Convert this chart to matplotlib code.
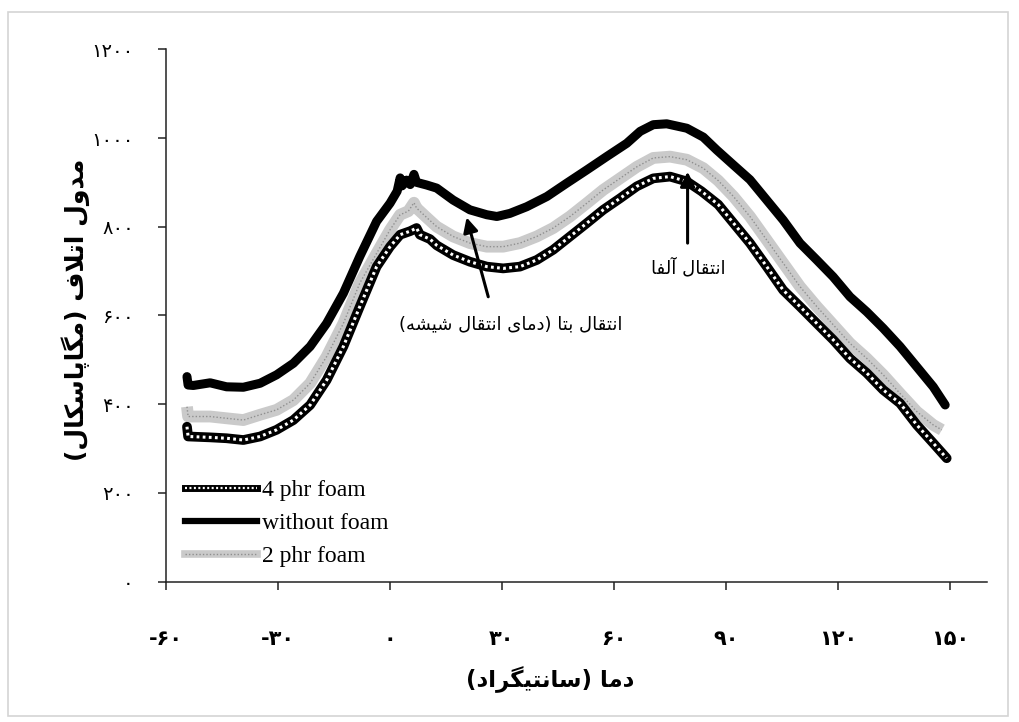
import matplotlib
matplotlib.use('Agg')
import matplotlib.pyplot as plt
from matplotlib.lines import Line2D
from matplotlib.legend_handler import HandlerTuple
from matplotlib.patches import Rectangle

# ---------------- data ----------------
temp_without = [-54.3, -54.0, -52.6, -48.1, -43.7, -39.2, -34.7, -30.3, -25.8, -21.3,
                -16.9, -12.4, -8.0, -3.5, 0.1, 2.0, 2.8, 3.3, 4.5, 5.5, 6.5, 7.2, 9.9,
                12.6, 17.0, 21.5, 26.0, 28.7, 32.2, 36.7, 42.1, 47.4, 52.8, 58.1, 63.5,
                67.1, 70.6, 74.2, 79.6, 84.0, 87.6, 92.1, 96.5, 101.0, 105.4, 109.9,
                114.4, 118.8, 123.3, 127.8, 132.2, 136.7, 141.2, 145.6, 148.8]
mod_without = [462, 443, 442, 448, 439, 438, 447, 466, 492, 530,
               582, 650, 733, 812, 853, 880, 910, 892, 905, 895, 918, 900, 894,
               887, 860, 838, 827, 823, 830, 845, 868, 898, 928, 958, 988,
               1015, 1030, 1032, 1022, 1002, 973, 939, 906, 860, 815, 763,
               725, 687, 642, 608, 571, 530, 484, 439, 398]

temp_2phr = [-54.3, -54.0, -48.1, -43.7, -39.2, -34.7, -30.3, -25.8, -21.3, -16.9,
             -12.4, -8.0, -3.5, 0.1, 2.8, 5.0, 6.5, 7.2, 10.0, 12.6, 17.0, 21.5,
             26.0, 30.4, 34.9, 39.4, 43.8, 48.3, 52.8, 57.2, 61.7, 66.2, 70.6, 75.1,
             79.6, 84.0, 88.0, 92.1, 96.5, 101.0, 105.4, 109.9, 114.4, 118.8, 123.3,
             127.8, 132.2, 136.7, 141.2, 145.6, 147.9]
mod_2phr = [394, 372, 372, 368, 364, 376, 387, 409, 447, 507,
            582, 673, 740, 793, 827, 835, 854, 842, 820, 800, 778, 763,
            755, 755, 763, 778, 797, 823, 853, 883, 909, 935, 955, 958,
            951, 932, 904, 868, 823, 770, 718, 665, 620, 579, 537,
            503, 466, 424, 383, 353, 342]

temp_4phr = [-54.3, -54.0, -48.1, -43.7, -39.2, -34.7, -30.3, -25.8, -21.3, -16.9,
             -12.4, -8.0, -3.5, 0.1, 2.8, 5.5, 7.2, 8.1, 10.8, 12.6, 17.0, 21.5,
             26.0, 30.4, 34.9, 39.4, 43.8, 48.3, 52.8, 57.2, 61.7, 66.2, 70.6, 75.1,
             79.6, 83.5, 88.0, 92.1, 96.5, 101.0, 105.4, 109.9, 114.4, 118.8, 123.3,
             127.8, 132.2, 136.7, 141.2, 145.6, 149.2]
mod_4phr = [349, 327, 325, 323, 319, 327, 342, 364, 398, 454,
            530, 620, 710, 755, 782, 790, 797, 782, 772, 758, 736, 721,
            710, 706, 710, 725, 748, 778, 808, 838, 864, 891, 909, 913,
            902, 880, 850, 808, 763, 710, 657, 620, 582, 545, 503,
            470, 432, 402, 353, 312, 278]

series_labels = ['4 phr foam', 'without foam', '2 phr foam']
x_ticks = [-60, -30, 0, 30, 60, 90, 120, 150]
y_ticks = [0, 200, 400, 600, 800, 1000, 1200]

x_label = 'دما (سانتیگراد)'
y_label = 'مدول اتلاف (مگاپاسکال)'
note_beta = 'انتقال بتا (دمای انتقال شیشه)'
note_alpha = 'انتقال آلفا'
beta_tip, beta_tail, beta_text = (20.6, 821), (26.4, 642), (32.5, 579)
alpha_tip, alpha_tail, alpha_text = (79.8, 924), (79.8, 763), (80.1, 707)

# ---------------- Persian shaping (visual order, presentation forms) ----------------
FORMS = {
    'ا': ('\uFE8D', '\uFE8E', None, None),
    'آ': ('\uFE81', '\uFE82', None, None),
    'ب': ('\uFE8F', '\uFE90', '\uFE91', '\uFE92'),
    'پ': ('\uFB56', '\uFB57', '\uFB58', '\uFB59'),
    'ت': ('\uFE95', '\uFE96', '\uFE97', '\uFE98'),
    'د': ('\uFEA9', '\uFEAA', None, None),
    'ر': ('\uFEAD', '\uFEAE', None, None),
    'س': ('\uFEB1', '\uFEB2', '\uFEB3', '\uFEB4'),
    'ش': ('\uFEB5', '\uFEB6', '\uFEB7', '\uFEB8'),
    'ف': ('\uFED1', '\uFED2', '\uFED3', '\uFED4'),
    'ق': ('\uFED5', '\uFED6', '\uFED7', '\uFED8'),
    'ک': ('\uFB8E', '\uFB8F', '\uFB90', '\uFB91'),
    'گ': ('\uFB92', '\uFB93', '\uFB94', '\uFB95'),
    'ل': ('\uFEDD', '\uFEDE', '\uFEDF', '\uFEE0'),
    'م': ('\uFEE1', '\uFEE2', '\uFEE3', '\uFEE4'),
    'ن': ('\uFEE5', '\uFEE6', '\uFEE7', '\uFEE8'),
    'ه': ('\uFEE9', '\uFEEA', '\uFEEB', '\uFEEC'),
    'و': ('\uFEED', '\uFEEE', None, None),
    'ی': ('\uFBFC', '\uFBFD', '\uFBFE', '\uFBFF'),
}
LAM_ALEF = {'ا': ('\uFEFB', '\uFEFC'), 'آ': ('\uFEF5', '\uFEF6')}


def shape(s):
    def dual(c):
        return c in FORMS and FORMS[c][2] is not None
    out, i, n = [], 0, len(s)
    while i < n:
        c = s[i]
        if c not in FORMS:
            out.append(c)
            i += 1
            continue
        prev_join = i > 0 and dual(s[i - 1])
        if c == 'ل' and i + 1 < n and s[i + 1] in LAM_ALEF:
            lig = LAM_ALEF[s[i + 1]]
            out.append(lig[1] if prev_join else lig[0])
            i += 2
            continue
        next_join = dual(c) and i + 1 < n and s[i + 1] in FORMS
        iso, fin, ini, med = FORMS[c]
        if prev_join and next_join:
            g = med
        elif prev_join:
            g = fin
        elif next_join:
            g = ini
        else:
            g = iso
        out.append(g)
        i += 1
    vis = ''.join(reversed(out))
    return vis.translate(str.maketrans('()', ')('))


FA_DIGITS = str.maketrans('0123456789', '۰۱۲۳۴۵۶۷۸۹')


def fa_num(v):
    return str(v).translate(FA_DIGITS)


FA_FONT = ['DejaVu Sans']
LEG_FONT = ['Liberation Serif', 'DejaVu Serif']

GRAY_BASE = '#cacaca'
GRAY_DOT = '#8f8f8f'

# ---------------- figure ----------------
fig = plt.figure(figsize=(10.19, 7.22), dpi=100)
fig.patches.append(Rectangle((8 / 1019, 1 - 716 / 722), 1000 / 1019, 704 / 722,
                             transform=fig.transFigure, fill=False,
                             edgecolor='#d4d4d4', lw=1.2))
ax = fig.add_axes([165.7 / 1019, 140.5 / 722, 821.3 / 1019, 532.2 / 722])
ax.set_xlim(-60, 160)
ax.set_ylim(0, 1200)

# 2 phr foam: light stippled band
ax.plot(temp_2phr, mod_2phr, color=GRAY_BASE, lw=8.5, solid_capstyle='butt', zorder=2)
ax.plot(temp_2phr, mod_2phr, color=GRAY_DOT, lw=1.0, ls=(0, (1, 1.5)), zorder=2.1)
# 4 phr foam: black chain with white dots
ax.plot(temp_4phr, mod_4phr, color='black', lw=7, solid_capstyle='round', zorder=3)
ax.plot(temp_4phr, mod_4phr, color='white', lw=2.2, ls=(0, (0.9, 1.1)), zorder=3.1)
# without foam: thick solid black
ax.plot(temp_without, mod_without, color='black', lw=6.5, solid_capstyle='round',
        solid_joinstyle='round', zorder=4)

# axes styling
for side in ('top', 'right'):
    ax.spines[side].set_visible(False)
for side in ('left', 'bottom'):
    ax.spines[side].set_linewidth(1.1)
    ax.spines[side].set_color('#222222')
ax.set_xticks(x_ticks)
ax.set_yticks(y_ticks)
ax.set_xticklabels([fa_num(v) if v >= 0 else '-' + fa_num(-v) for v in x_ticks],
                   family=FA_FONT, fontsize=15, fontweight='bold')
ax.set_yticklabels([fa_num(v) for v in y_ticks], family=FA_FONT, fontsize=14)
ax.tick_params(axis='x', direction='out', length=6, width=1.1, pad=28, color='#222222')
ax.tick_params(axis='y', direction='out', length=6, width=1.1, pad=17, color='#222222')

fig.text(550 / 1019, 1 - 680 / 722, shape(x_label), family=FA_FONT, fontsize=16.5,
         fontweight='bold', ha='center', va='center')
fig.text(76 / 1019, 1 - 310 / 722, shape(y_label), family=FA_FONT, fontsize=18,
         fontweight='bold', ha='center', va='center', rotation=90)

# annotations
arrow_kw = dict(arrowstyle='-|>', lw=2.2, color='black', mutation_scale=22,
                shrinkA=0, shrinkB=0)
ax.annotate('', xy=beta_tip, xytext=beta_tail, arrowprops=arrow_kw, zorder=6)
ax.annotate('', xy=alpha_tip, xytext=alpha_tail, arrowprops=arrow_kw, zorder=6)
ax.text(*beta_text, shape(note_beta), family=FA_FONT, fontsize=13,
        ha='center', va='center', zorder=7)
ax.text(*alpha_text, shape(note_alpha), family=FA_FONT, fontsize=13,
        ha='center', va='center', zorder=7)

# legend
h4 = (Line2D([], [], color='black', lw=5),
      Line2D([], [], color='white', lw=1.6, ls=(0, (0.9, 1.1))))
h0 = Line2D([], [], color='black', lw=4.5)
h2 = (Line2D([], [], color=GRAY_BASE, lw=5.5),
      Line2D([], [], color=GRAY_DOT, lw=1.0, ls=(0, (1, 1.5))))
ax.legend([h4, h0, h2], series_labels, loc='center left',
          bbox_to_anchor=(0.0235, 0.109), frameon=False, borderpad=0,
          borderaxespad=0, handlelength=3.05, handletextpad=0.22,
          labelspacing=0.48, prop={'family': LEG_FONT, 'size': 17},
          handler_map={tuple: HandlerTuple(ndivide=1, pad=0)})

fig.savefig('out.png', dpi=100, facecolor='white')
